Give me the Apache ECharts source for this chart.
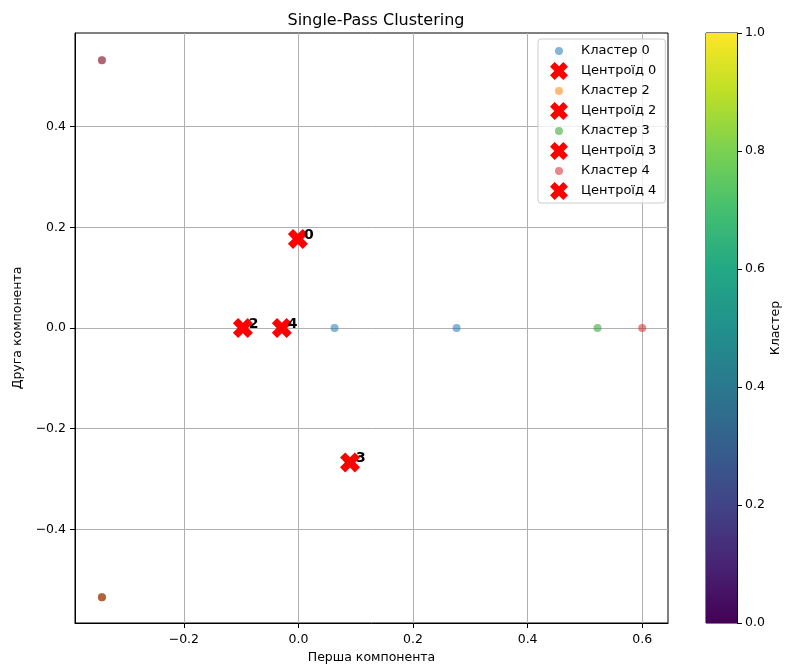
<!DOCTYPE html>
<html>
<head>
<meta charset="utf-8">
<title>Single-Pass Clustering</title>
<script src="https://cdn.jsdelivr.net/npm/echarts@6/dist/echarts.min.js"></script>
<style>
  html, body { margin: 0; padding: 0; background: #fff; }
  #main { width: 786px; height: 664px; }
</style>
</head>
<body>
<div id="main"></div>
<script>
// точки кластерів (x, y)
const cluster0X = [0.063, 0.276, -0.343];
const cluster0Y = [0.0, 0.0, 0.532];
const cluster2X = [-0.343];
const cluster2Y = [-0.535];
const cluster3X = [0.522, -0.343];
const cluster3Y = [0.0, -0.535];
const cluster4X = [0.600, -0.343, -0.343];
const cluster4Y = [0.0, 0.532, -0.535];

// центроїди
const centroidIds = ['0', '2', '3', '4'];
const centroidX = [-0.001, -0.097, 0.090, -0.029];
const centroidY = [0.177, 0.0, -0.267, 0.0];

const clusterColors = ['#1f77b4', '#ff7f0e', '#2ca02c', '#d62728'];
const xTicks = [-0.2, 0.0, 0.2, 0.4, 0.6];
const yTicks = [-0.4, -0.2, 0.0, 0.2, 0.4];
const colorbarRange = [0, 1];

const FONT = 'DejaVu Sans';
const X_MARK = 'path://M0,2.6L2.6,0L5,2.4L7.4,0L10,2.6L7.6,5L10,7.4L7.4,10L5,7.6L2.6,10L0,7.4L2.4,5Z';
// маленьке коло в легенді (рамка 18x18 задана двома moveTo)
const SMALL_DOT = 'path://M0,0M18,18M9,5A4,4,0,1,1,8.99,5Z';

function fmt(v) {
    return (v < 0 ? '\u2212' : '') + Math.abs(v).toFixed(1);
}
function zip(xs, ys) {
    return xs.map(function(x, i) { return [x, ys[i]]; });
}

const clusters = [
    { id: '0', data: zip(cluster0X, cluster0Y) },
    { id: '2', data: zip(cluster2X, cluster2Y) },
    { id: '3', data: zip(cluster3X, cluster3Y) },
    { id: '4', data: zip(cluster4X, cluster4Y) }
];

let series = [];
let legendData = [];
clusters.forEach(function(c, i) {
    series.push({
        name: 'Кластер ' + c.id,
        type: 'scatter',
        data: c.data,
        symbol: 'circle',
        symbolSize: 8,
        symbolKeepAspect: true,
        itemStyle: { color: clusterColors[i], opacity: 0.55 },
        z: 2
    });
    series.push({
        name: 'Центроїд ' + c.id,
        type: 'scatter',
        data: [[centroidX[i], centroidY[i]]],
        symbol: X_MARK,
        symbolSize: 20,
        symbolKeepAspect: true,
        itemStyle: { color: '#ff0000', opacity: 1 },
        label: {
            show: true,
            formatter: centroidIds[i],
            position: [16, 13],
            align: 'left',
            verticalAlign: 'bottom',
            fontFamily: FONT,
            fontWeight: 'bold',
            fontSize: 14,
            color: '#000'
        },
        z: 3
    });
    legendData.push({ name: 'Кластер ' + c.id, icon: SMALL_DOT });
    legendData.push({ name: 'Центроїд ' + c.id });
});

// колірна шкала (viridis)
series.push({
    name: 'colorbar',
    type: 'bar',
    xAxisIndex: 1,
    yAxisIndex: 1,
    data: [colorbarRange[1]],
    barWidth: '100%',
    silent: true,
    itemStyle: {
        color: new echarts.graphic.LinearGradient(0, 1, 0, 0, [
            { offset: 0.0, color: '#440154' },
            { offset: 0.1, color: '#482475' },
            { offset: 0.2, color: '#414487' },
            { offset: 0.3, color: '#355f8d' },
            { offset: 0.4, color: '#2a788e' },
            { offset: 0.5, color: '#21918c' },
            { offset: 0.6, color: '#22a884' },
            { offset: 0.7, color: '#44bf70' },
            { offset: 0.8, color: '#7ad151' },
            { offset: 0.9, color: '#bddf26' },
            { offset: 1.0, color: '#fde725' }
        ])
    }
});

const chart = echarts.init(document.getElementById('main'));
const option = {
    animation: false,
    backgroundColor: '#fff',
    textStyle: { fontFamily: FONT },
    title: {
        text: 'Single-Pass Clustering',
        left: 371,
        textAlign: 'center',
        top: 8,
        textStyle: { fontFamily: FONT, fontSize: 16, fontWeight: 'normal', color: '#000' }
    },
    legend: {
        data: legendData,
        orient: 'vertical',
        left: 538,
        top: 39,
        padding: [3, 9, 3, 12],
        itemWidth: 30,
        itemHeight: 18,
        itemGap: 2,
        borderColor: '#cccccc',
        borderWidth: 1,
        borderRadius: 3,
        backgroundColor: 'rgba(255,255,255,0.8)',
        textStyle: { fontFamily: FONT, fontSize: 13, color: '#000', padding: [0, 0, 0, 2] }
    },
    grid: [
        { left: 75, top: 33, width: 593, height: 590, outerBoundsMode: 'none', show: true, borderColor: '#000', borderWidth: 1, backgroundColor: 'transparent' },
        { left: 706, top: 33, width: 31, height: 590, outerBoundsMode: 'none', show: true, borderColor: '#000', borderWidth: 1, backgroundColor: 'transparent' }
    ],
    xAxis: [{
        type: 'value',
        gridIndex: 0,
        min: -0.39,
        max: 0.645,
        name: 'Перша компонента',
        nameLocation: 'middle',
        nameGap: 28,
        nameTextStyle: { fontFamily: FONT, fontSize: 12.5, color: '#000' },
        axisLine: { show: true, onZero: false, lineStyle: { color: '#000', width: 1 } },
        axisTick: { show: true, length: 5, customValues: xTicks, lineStyle: { color: '#000' } },
        axisLabel: { customValues: xTicks, formatter: fmt, margin: 10, fontFamily: FONT, fontSize: 12.5, color: '#000' },
        splitLine: { show: true, lineStyle: { color: '#b0b0b0', width: 1 } }
    }, {
        type: 'category',
        gridIndex: 1,
        data: ['c'],
        show: false
    }],
    yAxis: [{
        type: 'value',
        gridIndex: 0,
        min: -0.586,
        max: 0.586,
        name: 'Друга компонента',
        nameLocation: 'middle',
        nameRotate: 90,
        nameGap: 46,
        nameTextStyle: { fontFamily: FONT, fontSize: 12.5, color: '#000' },
        axisLine: { show: true, onZero: false, lineStyle: { color: '#000', width: 1 } },
        axisTick: { show: true, length: 5, customValues: yTicks, lineStyle: { color: '#000' } },
        axisLabel: { customValues: yTicks, formatter: fmt, margin: 9, fontFamily: FONT, fontSize: 12.5, color: '#000' },
        splitLine: { show: true, lineStyle: { color: '#b0b0b0', width: 1 } }
    }, {
        type: 'value',
        gridIndex: 1,
        position: 'right',
        min: colorbarRange[0],
        max: colorbarRange[1],
        interval: 0.2,
        name: 'Кластер',
        nameLocation: 'middle',
        nameRotate: 90,
        nameGap: 32,
        nameTextStyle: { fontFamily: FONT, fontSize: 12.5, color: '#000' },
        axisLine: { show: true, onZero: false, lineStyle: { color: '#000', width: 1 } },
        axisTick: { show: true, length: 5, lineStyle: { color: '#000' } },
        axisLabel: { formatter: function(v) { return v.toFixed(1); }, margin: 8, fontFamily: FONT, fontSize: 12.5, color: '#000' },
        splitLine: { show: false }
    }],
    series: series
};
chart.setOption(option);
</script>
</body>
</html>
